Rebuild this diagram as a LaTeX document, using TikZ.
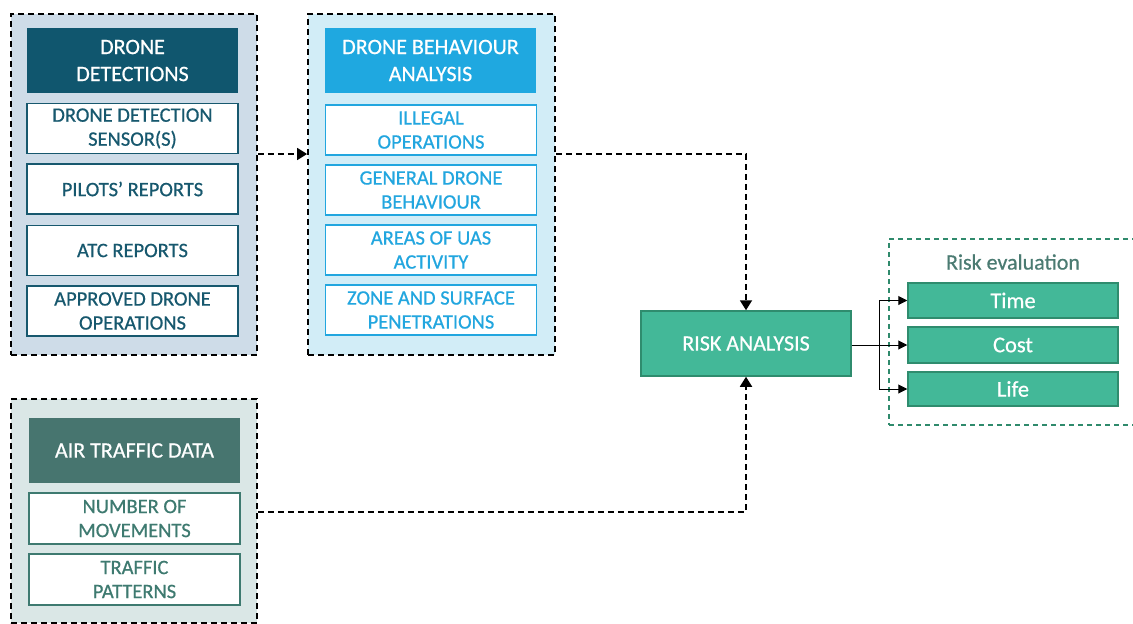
\documentclass[tikz,border=0pt]{standalone}
\usepackage{fontspec}
\setmainfont{Carlito}[BoldFont=Carlito, BoldFeatures={FakeBold=0.6}]
\usetikzlibrary{arrows.meta}
\definecolor{gAfill}{HTML}{CEDCE8}
\definecolor{hA}{HTML}{10566E}
\definecolor{iA}{HTML}{17586E}
\definecolor{gBfill}{HTML}{D2EDF7}
\definecolor{hB}{HTML}{1FA8E0}
\definecolor{iB}{HTML}{22A6DF}
\definecolor{gCfill}{HTML}{DAE7E6}
\definecolor{hC}{HTML}{47756F}
\definecolor{iC}{HTML}{3E7A70}
\definecolor{rfill}{HTML}{43B898}
\definecolor{rline}{HTML}{2F8C6E}
\definecolor{evline}{HTML}{2F8A6C}
\definecolor{evtext}{HTML}{4B7B72}
\tikzset{
  x=1pt, y=-1pt,
  grp/.style={draw=black, line width=1.8pt, dash pattern=on 6pt off 4pt, inner sep=0pt},
  hdr/.style={rectangle, minimum width=211pt, minimum height=65pt, align=center, text=white, font=\fontsize{22}{27}\selectfont\bfseries, inner sep=0pt},
  itm/.style={rectangle, fill=white, line width=1.8pt, minimum width=211pt, minimum height=50pt, align=center, font=\fontsize{20.5}{24}\selectfont\bfseries, inner sep=0pt},
  riskbox/.style={rectangle, fill=rfill, draw=rline, line width=1.5pt, text=white, align=center, inner sep=0pt},
  conn/.style={black, line width=1.8pt, dash pattern=on 6pt off 4pt},
  tip/.style={-{Triangle[length=10pt,width=12pt]}},
  fork/.style={black, line width=1pt, -{Triangle[length=9pt,width=9pt]}}
}
\begin{document}
\begin{tikzpicture}
\useasboundingbox (0,0) rectangle (1133,624);
% group 1
\node[grp, fill=gAfill, minimum width=246pt, minimum height=341pt] (g1) at (134,184.5) {};
\node[hdr, fill=hA] (h1) at (132.5,60.5) {DRONE\\DETECTIONS};
\node[itm, draw=iA, text=iA] (a1) at (132.5,128.5) {DRONE DETECTION\\SENSOR(S)};
\node[itm, draw=iA, text=iA] (a2) at (132.5,189) {PILOTS’ REPORTS};
\node[itm, draw=iA, text=iA] (a3) at (132.5,250.5) {ATC REPORTS};
\node[itm, draw=iA, text=iA] (a4) at (132.5,311) {APPROVED DRONE\\OPERATIONS};
% group 2
\node[grp, fill=gBfill, minimum width=247pt, minimum height=341pt] (g2) at (431.5,184.5) {};
\node[hdr, fill=hB] (h2) at (430.5,60.5) {DRONE BEHAVIOUR\\ANALYSIS};
\node[itm, draw=iB, text=iB] (b1) at (431,130) {ILLEGAL\\OPERATIONS};
\node[itm, draw=iB, text=iB] (b2) at (431,190) {GENERAL DRONE\\BEHAVIOUR};
\node[itm, draw=iB, text=iB] (b3) at (431,250) {AREAS OF UAS\\ACTIVITY};
\node[itm, draw=iB, text=iB] (b4) at (431,310) {ZONE AND SURFACE\\PENETRATIONS};
% group 3
\node[grp, fill=gCfill, minimum width=246pt, minimum height=224pt] (g3) at (134,511) {};
\node[hdr, fill=hC] (h3) at (134.5,450.5) {AIR TRAFFIC DATA};
\node[itm, draw=iC, text=iC, minimum height=51pt] (c1) at (134.5,518.5) {NUMBER OF\\MOVEMENTS};
\node[itm, draw=iC, text=iC, minimum height=51pt] (c2) at (134.5,579.5) {TRAFFIC\\PATTERNS};
% risk analysis
\node[riskbox, minimum width=210pt, minimum height=65pt, font=\fontsize{22}{26}\selectfont\bfseries] (risk) at (746,343.5) {RISK ANALYSIS};
% risk evaluation
\node[draw=evline, line width=1.2pt, dash pattern=on 5pt off 4pt, minimum width=256pt, minimum height=186pt, inner sep=0pt] (ev) at (1017,332) {};
\node[text=evtext, font=\fontsize{22}{26}\selectfont\bfseries, inner sep=0pt] (evt) at (1013,262) {Risk evaluation};
\node[riskbox, minimum width=210pt, minimum height=35pt, font=\fontsize{22.5}{26}\selectfont\bfseries] (t1) at (1013,300.5) {Time};
\node[riskbox, minimum width=210pt, minimum height=36pt, font=\fontsize{22.5}{26}\selectfont\bfseries] (t2) at (1013,345) {Cost};
\node[riskbox, minimum width=210pt, minimum height=34pt, font=\fontsize{22.5}{26}\selectfont\bfseries] (t3) at (1013,389) {Life};
% connectors
\draw[conn, tip] (g1.east |- 0,154) -- (g2.west |- 0,154);
\draw[conn, tip] (g2.east |- 0,154) -| (risk.north);
\draw[conn, tip] (g3.east |- 0,512) -| (risk.south);
\coordinate (fk) at (879,345);
\draw[black, line width=1pt] (risk.east |- fk) -- (fk);
\draw[fork] (fk) |- (t1.west);
\draw[fork] (fk) -- (t2.west);
\draw[fork] (fk) |- (t3.west);
\end{tikzpicture}
\end{document}
